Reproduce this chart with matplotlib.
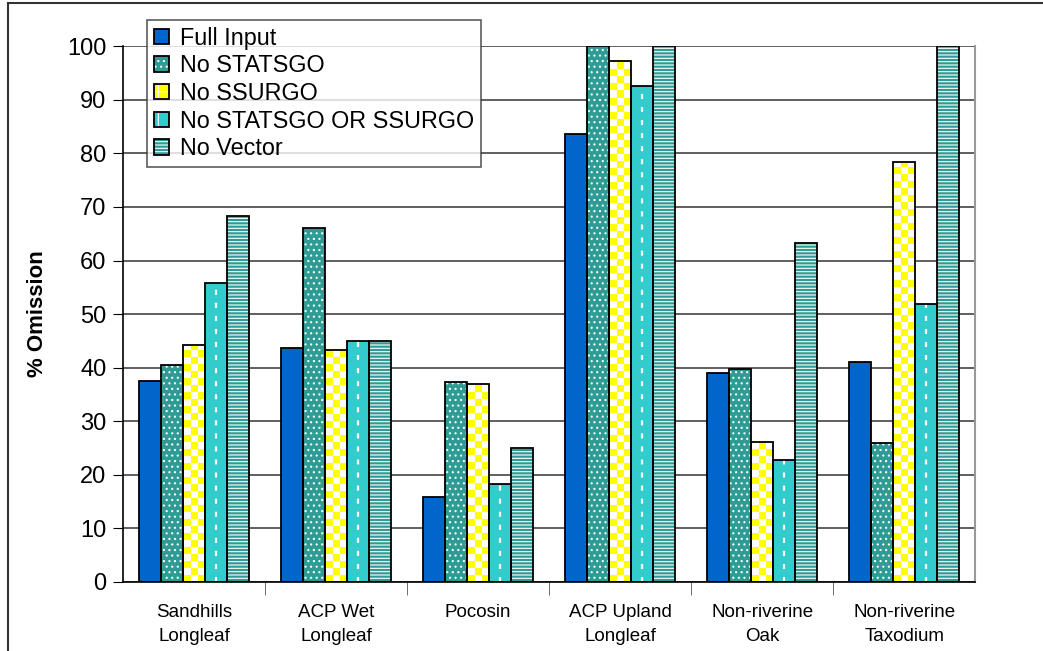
import numpy as np
import matplotlib.pyplot as plt
from matplotlib.patches import Patch, Rectangle
from matplotlib.colors import ListedColormap
from matplotlib.legend_handler import HandlerTuple

plt.rcParams['font.family'] = ['Liberation Sans', 'DejaVu Sans']
plt.rcParams['hatch.linewidth'] = 0.8
plt.rcParams['lines.scale_dashes'] = False

categories = ["Sandhills\nLongleaf", "ACP Wet\nLongleaf", "Pocosin",
              "ACP Upland\nLongleaf", "Non-riverine\nOak", "Non-riverine\nTaxodium"]
series = ["Full Input", "No STATSGO", "No SSURGO", "No STATSGO OR SSURGO", "No Vector"]
full_input = [37.6, 43.6, 15.8, 83.6, 39.0, 41.1]
no_statsgo = [40.5, 66.0, 37.3, 100.0, 39.8, 25.9]
no_ssurgo = [44.2, 43.3, 37.0, 97.2, 26.1, 78.4]
no_both = [55.8, 45.0, 18.2, 92.6, 22.8, 51.8]
no_vector = [68.3, 45.0, 25.0, 100.0, 63.2, 100.0]
values = [full_input, no_statsgo, no_ssurgo, no_both, no_vector]

faces = ["#0066CC", "#2E9C94", "#FFFF00", "#33CCCC", "#2E9C94"]
hatches = [None, "...", None, None, "-----"]
leg_hatches = [None, "...", "+", "|", "-----"]

fig = plt.figure(figsize=(10.43, 6.51), dpi=100)
ax = fig.add_axes([0.118, 0.106, 0.817, 0.823])

x = np.arange(len(categories))
w = 0.155
checker_cmap = ListedColormap(["#FFFF00", "white"])
for i, vals in enumerate(values):
    pos = x + (i - 2) * w
    ax.bar(pos, vals, w, color=faces[i], edgecolor="white", linewidth=0,
           hatch=hatches[i], zorder=2)
    for c, h in zip(pos, vals):
        if i == 2:
            # yellow / white checker texture
            cell = 1.31
            nrows = int(np.ceil(h / cell))
            grid = np.indices((nrows, 3)).sum(axis=0) % 2
            im = ax.imshow(grid, cmap=checker_cmap, interpolation="nearest",
                           aspect="auto", origin="lower",
                           extent=(c - w / 2, c + w / 2, 0, nrows * cell), zorder=2.5)
            im.set_clip_path(Rectangle((c - w / 2, 0), w, h, transform=ax.transData))
        if i == 3:
            # white dashes down the middle
            ax.plot([c, c], [0, h], color="white", linewidth=1.6,
                    dashes=(3.6, 5.8), zorder=2.5)
    ax.bar(pos, vals, w, fill=False, edgecolor="black", linewidth=1.3, zorder=3)

ax.set_xlim(-0.5, len(categories) - 0.5)
ax.set_ylim(0, 100)
ax.set_yticks(range(0, 101, 10))
ax.yaxis.grid(True, color="#444444", linewidth=1.2, zorder=0)
ax.set_axisbelow(True)
ax.set_xticks(x)
ax.set_xticklabels(categories, fontsize=13.5, linespacing=1.55)
ax.set_xticks(np.arange(0.5, len(categories) - 0.5, 1), minor=True)
ax.tick_params(axis="x", which="major", length=0, pad=16)
ax.tick_params(axis="x", which="minor", length=9, direction="out", color="#555555")
ax.tick_params(axis="y", labelsize=17, length=7, direction="out", pad=5)
ax.set_ylabel("% Omission", fontsize=16, fontweight="bold", labelpad=14)

ax.spines["top"].set_visible(False)
ax.spines["right"].set_color("#999999")
ax.spines["right"].set_linewidth(1.5)
ax.spines["left"].set_linewidth(1.2)
ax.spines["bottom"].set_linewidth(1.2)

handles = [(Patch(facecolor=faces[i], edgecolor="white", linewidth=0, hatch=leg_hatches[i]),
            Patch(fill=False, edgecolor="black", linewidth=1.3))
           for i in range(len(series))]
leg = fig.legend(handles=handles, labels=series, loc="upper left",
                 handler_map={tuple: HandlerTuple(ndivide=1, pad=0)},
                 bbox_to_anchor=(0.141, 0.970),
                 fontsize=16.8, frameon=True, fancybox=False, handlelength=0.65,
                 handleheight=0.65, handletextpad=0.45, labelspacing=0.2,
                 borderpad=0.3, borderaxespad=0)
leg.get_frame().set_edgecolor("#333333")
leg.get_frame().set_linewidth(1.2)

fig.patches.append(Rectangle((0.008, -0.1), 1.1, 1.095, transform=fig.transFigure,
                             fill=False, edgecolor="#333333", linewidth=1.5))

fig.savefig("out.png", dpi=100)
